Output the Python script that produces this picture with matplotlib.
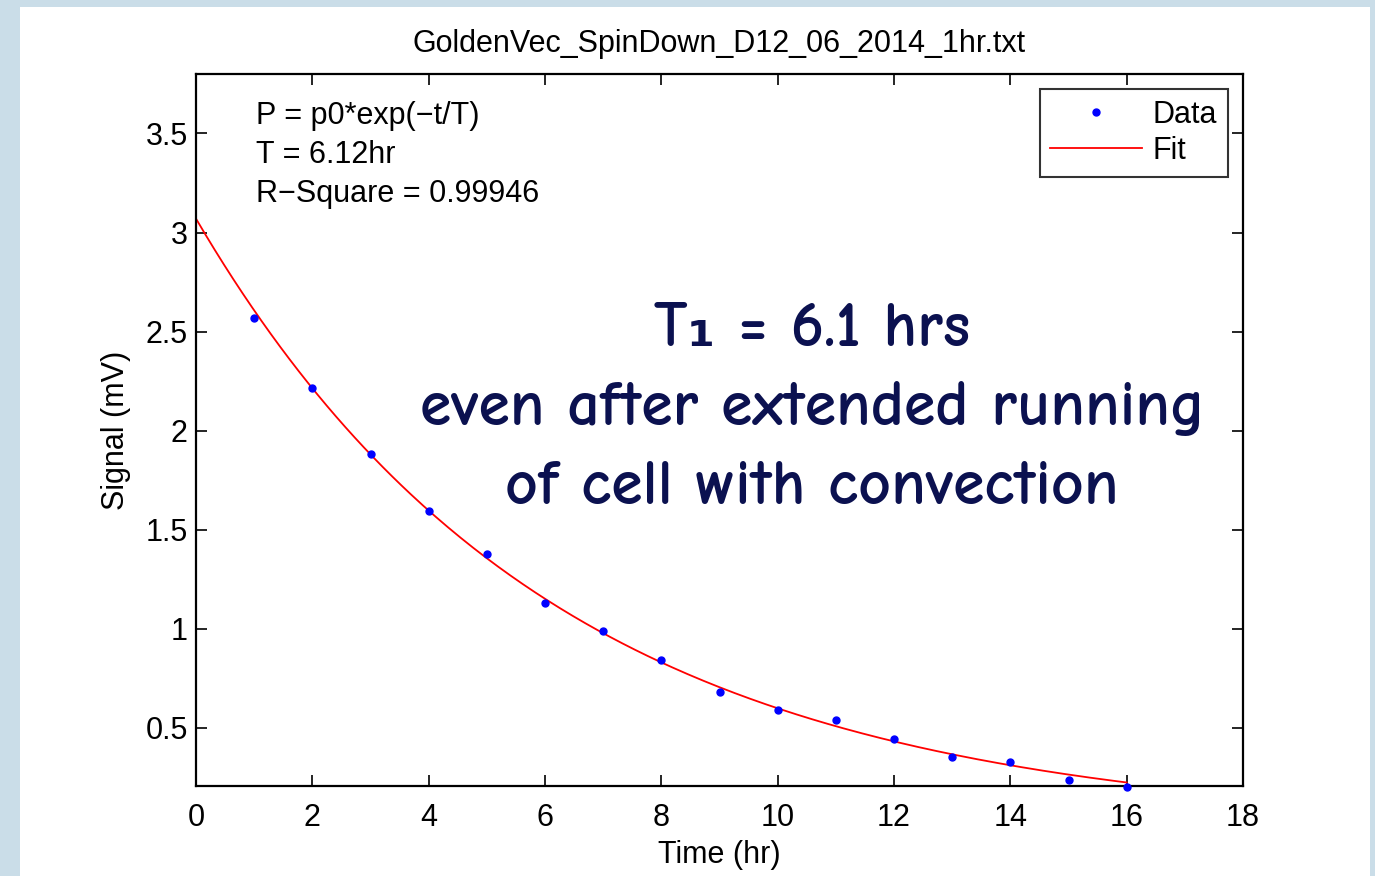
import numpy as np
import matplotlib
matplotlib.use("Agg")
import matplotlib.pyplot as plt
from matplotlib.patches import Rectangle

# ---- data ----
time_hr = [1, 2, 3, 4, 5, 6, 7, 8, 9, 10, 11, 12, 13, 14, 15, 16]
signal_mv = [2.571, 2.217, 1.884, 1.596, 1.379, 1.131, 0.990, 0.843,
             0.682, 0.591, 0.540, 0.444, 0.354, 0.328, 0.237, 0.203]
fit_p0 = 3.07
fit_T = 6.12
fit_t_range = [0, 16]

title = "GoldenVec_SpinDown_D12_06_2014_1hr.txt"
fit_text = ["P = p0*exp(\u2212t/T)", "T = 6.12hr", "R\u2212Square = 0.99946"]
note_lines = ["T\u2081 = 6.1 hrs", "even after extended running", "of cell with convection"]
xticks = [0, 2, 4, 6, 8, 10, 12, 14, 16, 18]
yticks = [0.5, 1, 1.5, 2, 2.5, 3, 3.5]
yticklabels = ["0.5", "1", "1.5", "2", "2.5", "3", "3.5"]

plt.rcParams['font.family'] = ['Liberation Sans', 'DejaVu Sans']

fig = plt.figure(figsize=(13.75, 8.76), dpi=100, facecolor='#cadde8')
fig.patches.append(Rectangle((20 / 1375, 0), (1370 - 20) / 1375, 1 - 7 / 876,
                             transform=fig.transFigure, facecolor='white',
                             edgecolor='none', zorder=-5))

ax = fig.add_axes([196 / 1375, 1 - 786 / 876, (1243 - 196) / 1375, (786 - 74) / 876])
ax.set_zorder(1)
ax.set_facecolor('white')

t_fit = np.linspace(fit_t_range[0], fit_t_range[1], 300)
ax.plot(t_fit, fit_p0 * np.exp(-t_fit / fit_T), color='#ff0000', lw=1.3, label='Fit', zorder=2)
ax.plot(time_hr, signal_mv, linestyle='none', marker='o', ms=5, color='#0000ff',
        mec='#0000ff', label='Data', zorder=3, clip_on=False)

ax.set_xlim(0, 18)
ax.set_ylim(0.207, 3.8)
ax.set_xticks(xticks)
ax.set_yticks(yticks)
ax.set_yticklabels(yticklabels)
ax.tick_params(direction='in', length=8, width=1.2, top=True, right=True,
               labelsize=22)
ax.tick_params(axis='x', pad=12)
ax.tick_params(axis='y', pad=6)
for s in ax.spines.values():
    s.set_linewidth(1.6)

ax.set_title(title, fontsize=22, pad=16)
ax.set_xlabel("Time (hr)", fontsize=22, labelpad=5)
ax.set_ylabel("Signal (mV)", fontsize=22, labelpad=10)

for i, line in enumerate(fit_text):
    ax.text(256 / 1375, 1 - (116 + 39 * i) / 876, line, fontsize=22,
            ha='left', va='center', transform=fig.transFigure)

handles, labels = ax.get_legend_handles_labels()
leg = ax.legend([handles[1], handles[0]], [labels[1], labels[0]],
                loc='upper right', bbox_to_anchor=((1228 - 196) / 1047, (786 - 89) / 712),
                borderaxespad=0, fontsize=22,
                frameon=True, fancybox=False, edgecolor='black', markerfirst=True,
                handlelength=3.0, borderpad=0.35, labelspacing=0.2, handletextpad=0.35)
leg.get_frame().set_linewidth(1.5)

note_y = [330, 410, 488]
for line, y in zip(note_lines, note_y):
    ax.text(812 / 1375, 1 - y / 876, line, fontsize=46, color='#0b1150',
            ha='center', va='center', family=['Comic Neue', 'DejaVu Sans'],
            fontweight='bold', transform=fig.transFigure)

fig.savefig("out.png", dpi=100, facecolor=fig.get_facecolor())
